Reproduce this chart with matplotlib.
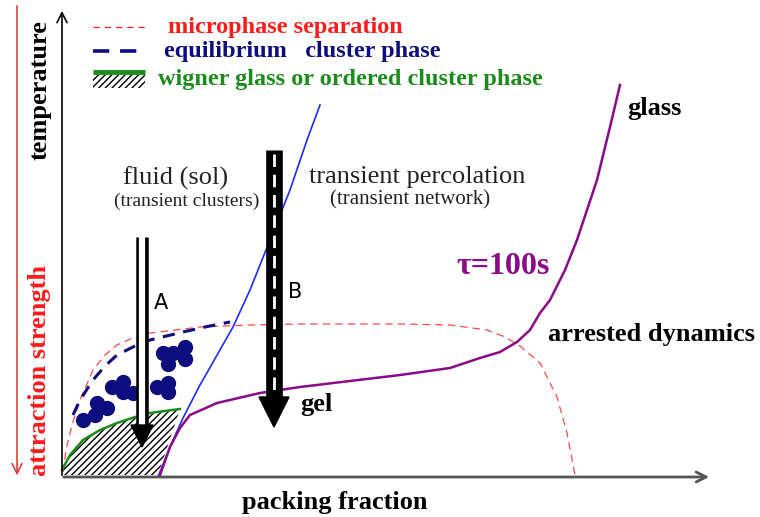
import numpy as np
import matplotlib
matplotlib.use("Agg")
import matplotlib.pyplot as plt

# schematic drawn in picture coordinates (x right, y down)
W, H = 760, 517

# curve points
micro_x = [63, 66, 72, 80, 93, 105, 117, 135, 150, 200, 250, 300, 400, 450, 487, 505, 520, 540, 557, 567, 575]
micro_y = [472, 450, 425, 400, 370, 355, 345, 337, 333, 327, 325, 324, 324, 325, 330, 337, 346, 363, 397, 433, 475]

cluster_x = [73, 80, 93, 105, 117, 135, 150, 183, 205, 230]
cluster_y = [415, 400, 380, 366, 355, 346, 340, 332, 327, 322]

wigner_x = [62, 70, 83, 100, 117, 135, 150, 165, 180]
wigner_y = [470, 455, 440, 430, 423, 417, 413, 411, 409]

perc_x = [158, 170, 183, 200, 233, 250, 270, 290, 307, 320]
perc_y = [477, 447, 418, 385, 327, 290, 240, 190, 140, 105]

arrest_x = [160, 170, 180, 190, 217, 260, 300, 400, 450, 480, 500, 517, 530, 540, 550, 565, 577, 597, 610, 620]
arrest_y = [475, 447, 428, 415, 403, 393, 387, 375, 368, 358, 352, 342, 330, 313, 300, 270, 240, 180, 127, 85]

dots_x = [83, 95, 107, 97, 112, 123, 123, 133, 157, 168, 168, 163, 173, 185, 185, 168]
dots_y = [420, 415, 408, 403, 387, 382, 392, 393, 387, 383, 392, 353, 353, 347, 359, 364]

# arrows A and B: x, top, base of head, tip
arrow_A = (142, 237, 425, 447)
arrow_B = (274, 150, 397, 427)

serif = "Liberation Serif"
red = "#ff1a1a"
navy = "#0d0d80"
green = "#1a8c1a"
purple = "#8a0a8a"
blue = "#1a2cff"

fig = plt.figure(figsize=(7.6, 5.17), dpi=100)
ax = fig.add_axes([0, 0, 1, 1])
ax.set_xlim(0, W)
ax.set_ylim(H, 0)
ax.axis("off")

# axes arrows
ax.annotate("", xy=(62, 8), xytext=(62, 478),
            arrowprops=dict(arrowstyle="->", color="black", lw=1.2, mutation_scale=18))
ax.annotate("", xy=(712, 477), xytext=(61, 477),
            arrowprops=dict(arrowstyle="->", color="#555555", lw=2, mutation_scale=18))
ax.annotate("", xy=(17, 478), xytext=(17, 3),
            arrowprops=dict(arrowstyle="->", color="#e03030", lw=1.1, mutation_scale=18))

# hatched wigner region
hx = wigner_x + [158, 62]
hy = wigner_y + [475, 475]
ax.fill(hx, hy, facecolor="white", edgecolor="black", hatch="/////", lw=0)

# curves
ax.plot(micro_x, micro_y, color=red, lw=0.9, ls=(0, (6, 4)), alpha=0.8)
ax.plot(cluster_x, cluster_y, color=navy, lw=2.2, ls=(0, (4, 2.8)))
ax.plot(wigner_x, wigner_y, color=green, lw=1.8)
ax.plot(perc_x, perc_y, color=blue, lw=1.2)
ax.plot(arrest_x, arrest_y, color=purple, lw=1.8)

# clusters
ax.scatter(dots_x, dots_y, s=100, color=navy, zorder=3)

# arrow A: hollow shaft
x, top, base, tip = arrow_A
ax.plot([x, x], [top, base + 2], color="black", lw=9, solid_capstyle="butt", zorder=4)
ax.plot([x, x], [top, base + 2], color="white", lw=4.5, solid_capstyle="butt", zorder=4)
ax.fill([x - 11, x + 11, x], [base, base, tip], color="black", zorder=4)

# arrow B: black shaft with white dashes
x, top, base, tip = arrow_B
ax.plot([x, x], [top, base + 2], color="black", lw=12, solid_capstyle="butt", zorder=4)
ax.plot([x, x], [top + 4, base - 4], color="white", lw=2, ls=(0, (4.5, 2.8)), zorder=4)
ax.fill([x - 15, x + 15, x], [base, base, tip], color="black", zorder=4)

# legend
ax.plot([93, 145], [27, 27], color=red, lw=0.9, ls=(0, (5, 4)))
ax.plot([93, 145], [51, 51], color=navy, lw=2.6, ls=(0, (4.5, 3)))
ax.plot([93, 145], [72, 72], color=green, lw=3.5, solid_capstyle="butt")
ax.fill([93, 145, 145, 93], [75, 75, 88, 88], facecolor="white", edgecolor="black",
        hatch="/////", lw=0)
ax.text(168, 28, "microphase separation", color=red, fontsize=17.5, family=serif,
        weight="bold", va="center")
ax.text(164, 52, "equilibrium   cluster phase", color=navy, fontsize=17.5, family=serif,
        weight="bold", va="center")
ax.text(158, 80, "wigner glass or ordered cluster phase", color=green, fontsize=17.5,
        family=serif, weight="bold", va="center")

# axis labels
ax.text(40, 90, "temperature", rotation=90, fontsize=19, family=serif, weight="bold",
        ha="center", va="center")
ax.text(40, 370, "attraction strength", rotation=90, fontsize=19, family=serif,
        weight="bold", color=red, ha="center", va="center")
ax.text(335, 502, "packing fraction", fontsize=19, family=serif, weight="bold",
        ha="center", va="center")

# region labels
ax.text(176, 178, "fluid (sol)", fontsize=19, family=serif, color="#222222",
        ha="center", va="center")
ax.text(187, 201, "(transient clusters)", fontsize=14, family=serif, color="#222222",
        ha="center", va="center")
ax.text(417, 177, "transient percolation", fontsize=19, family=serif, color="#222222",
        ha="center", va="center")
ax.text(410, 200, "(transient network)", fontsize=15, family=serif, color="#222222",
        ha="center", va="center")
ax.text(161, 303, "A", fontsize=15, family="DejaVu Sans", ha="center", va="center")
ax.text(295, 292, "B", fontsize=15, family="DejaVu Sans", ha="center", va="center")
ax.text(627, 109, "glass", fontsize=19, family=serif, weight="bold", va="center")
ax.text(456, 266, "τ=100s", fontsize=23, family=serif, weight="bold", color=purple,
        va="center")
ax.text(548, 334, "arrested dynamics", fontsize=19, family=serif, weight="bold",
        va="center")
ax.text(300, 404, "gel", fontsize=19, family=serif, weight="bold", va="center")

fig.savefig("out.png", dpi=100)
